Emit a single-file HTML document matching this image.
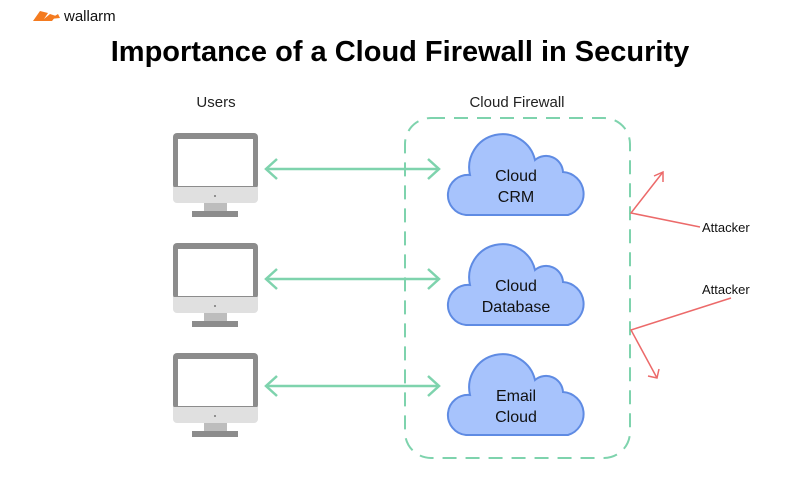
<!DOCTYPE html>
<html><head><style>
body{margin:0;width:800px;height:480px;background:#fff;overflow:hidden;font-family:"Liberation Sans",sans-serif}
</style></head><body>
<svg width="800" height="480" viewBox="0 0 800 480" xmlns="http://www.w3.org/2000/svg" font-family="Liberation Sans, sans-serif">
<g fill="#f47b20"><path d="M33 21 L40 11 L48 13 L44 19 L50 14 L56 16 L52 21 Z"/><path d="M50 19 L58 14 L60 18 Z"/></g>
<text x="64" y="21" font-size="15" fill="#111">wallarm</text>
<text x="400" y="61" font-size="29" font-weight="bold" text-anchor="middle" fill="#000">Importance of a Cloud Firewall in Security</text>
<text x="216" y="107" font-size="15" text-anchor="middle" fill="#222">Users</text>
<text x="517" y="107" font-size="15" text-anchor="middle" fill="#222">Cloud Firewall</text>
<rect x="405" y="118" width="225" height="340" rx="26" fill="none" stroke="#7ed3ad" stroke-width="2" stroke-dasharray="14 9"/>
<defs>
<g id="mon">
<rect x="173" y="133" width="85" height="56" rx="4" fill="#8c8c8c"/>
<rect x="178" y="139" width="75" height="47" fill="#fff"/>
<path d="M173 187 H258 V199 a4 4 0 0 1 -4 4 H177 a4 4 0 0 1 -4 -4 Z" fill="#e0e0e0"/>
<circle cx="215" cy="196" r="1" fill="#777"/>
<rect x="204" y="203" width="23" height="9" fill="#bdbdbd"/>
<rect x="192" y="211" width="46" height="6" fill="#8c8c8c"/>
</g>
<g id="arr" fill="none" stroke="#7ed3ad" stroke-width="2.5">
<line x1="266" y1="169" x2="439" y2="169"/>
<polyline points="277,159 266,169 277,179"/>
<polyline points="428,159 439,169 428,179"/>
</g>
<path id="cloud" d="M466 215 A20 20 0 0 1 470 175 A33 33 0 0 1 535 160 A17 17 0 0 1 563 172 A22 22 0 0 1 568 215 Z" fill="#a7c3fc" stroke="#5f8be3" stroke-width="2"/>
</defs>
<use href="#mon"/><use href="#mon" y="110"/><use href="#mon" y="220"/>
<use href="#arr"/><use href="#arr" y="110"/><use href="#arr" y="217"/>
<use href="#cloud"/><use href="#cloud" y="110"/><use href="#cloud" y="220"/>
<g font-size="16" fill="#111" text-anchor="middle">
<text x="516" y="181">Cloud</text><text x="516" y="202">CRM</text>
<text x="516" y="291">Cloud</text><text x="516" y="312">Database</text>
<text x="516" y="401">Email</text><text x="516" y="422">Cloud</text>
</g>
<g stroke="#ec6a6a" stroke-width="1.5" fill="none">
<polyline points="700,227 631,213 663,172"/>
<polyline points="654,176 663,172 663,182"/>
<polyline points="731,298 631,330 657,378"/>
<polyline points="648,376 657,378 659,369"/>
</g>
<text x="702" y="232" font-size="13" fill="#111">Attacker</text>
<text x="702" y="294" font-size="13" fill="#111">Attacker</text>
</svg>
</body></html>
